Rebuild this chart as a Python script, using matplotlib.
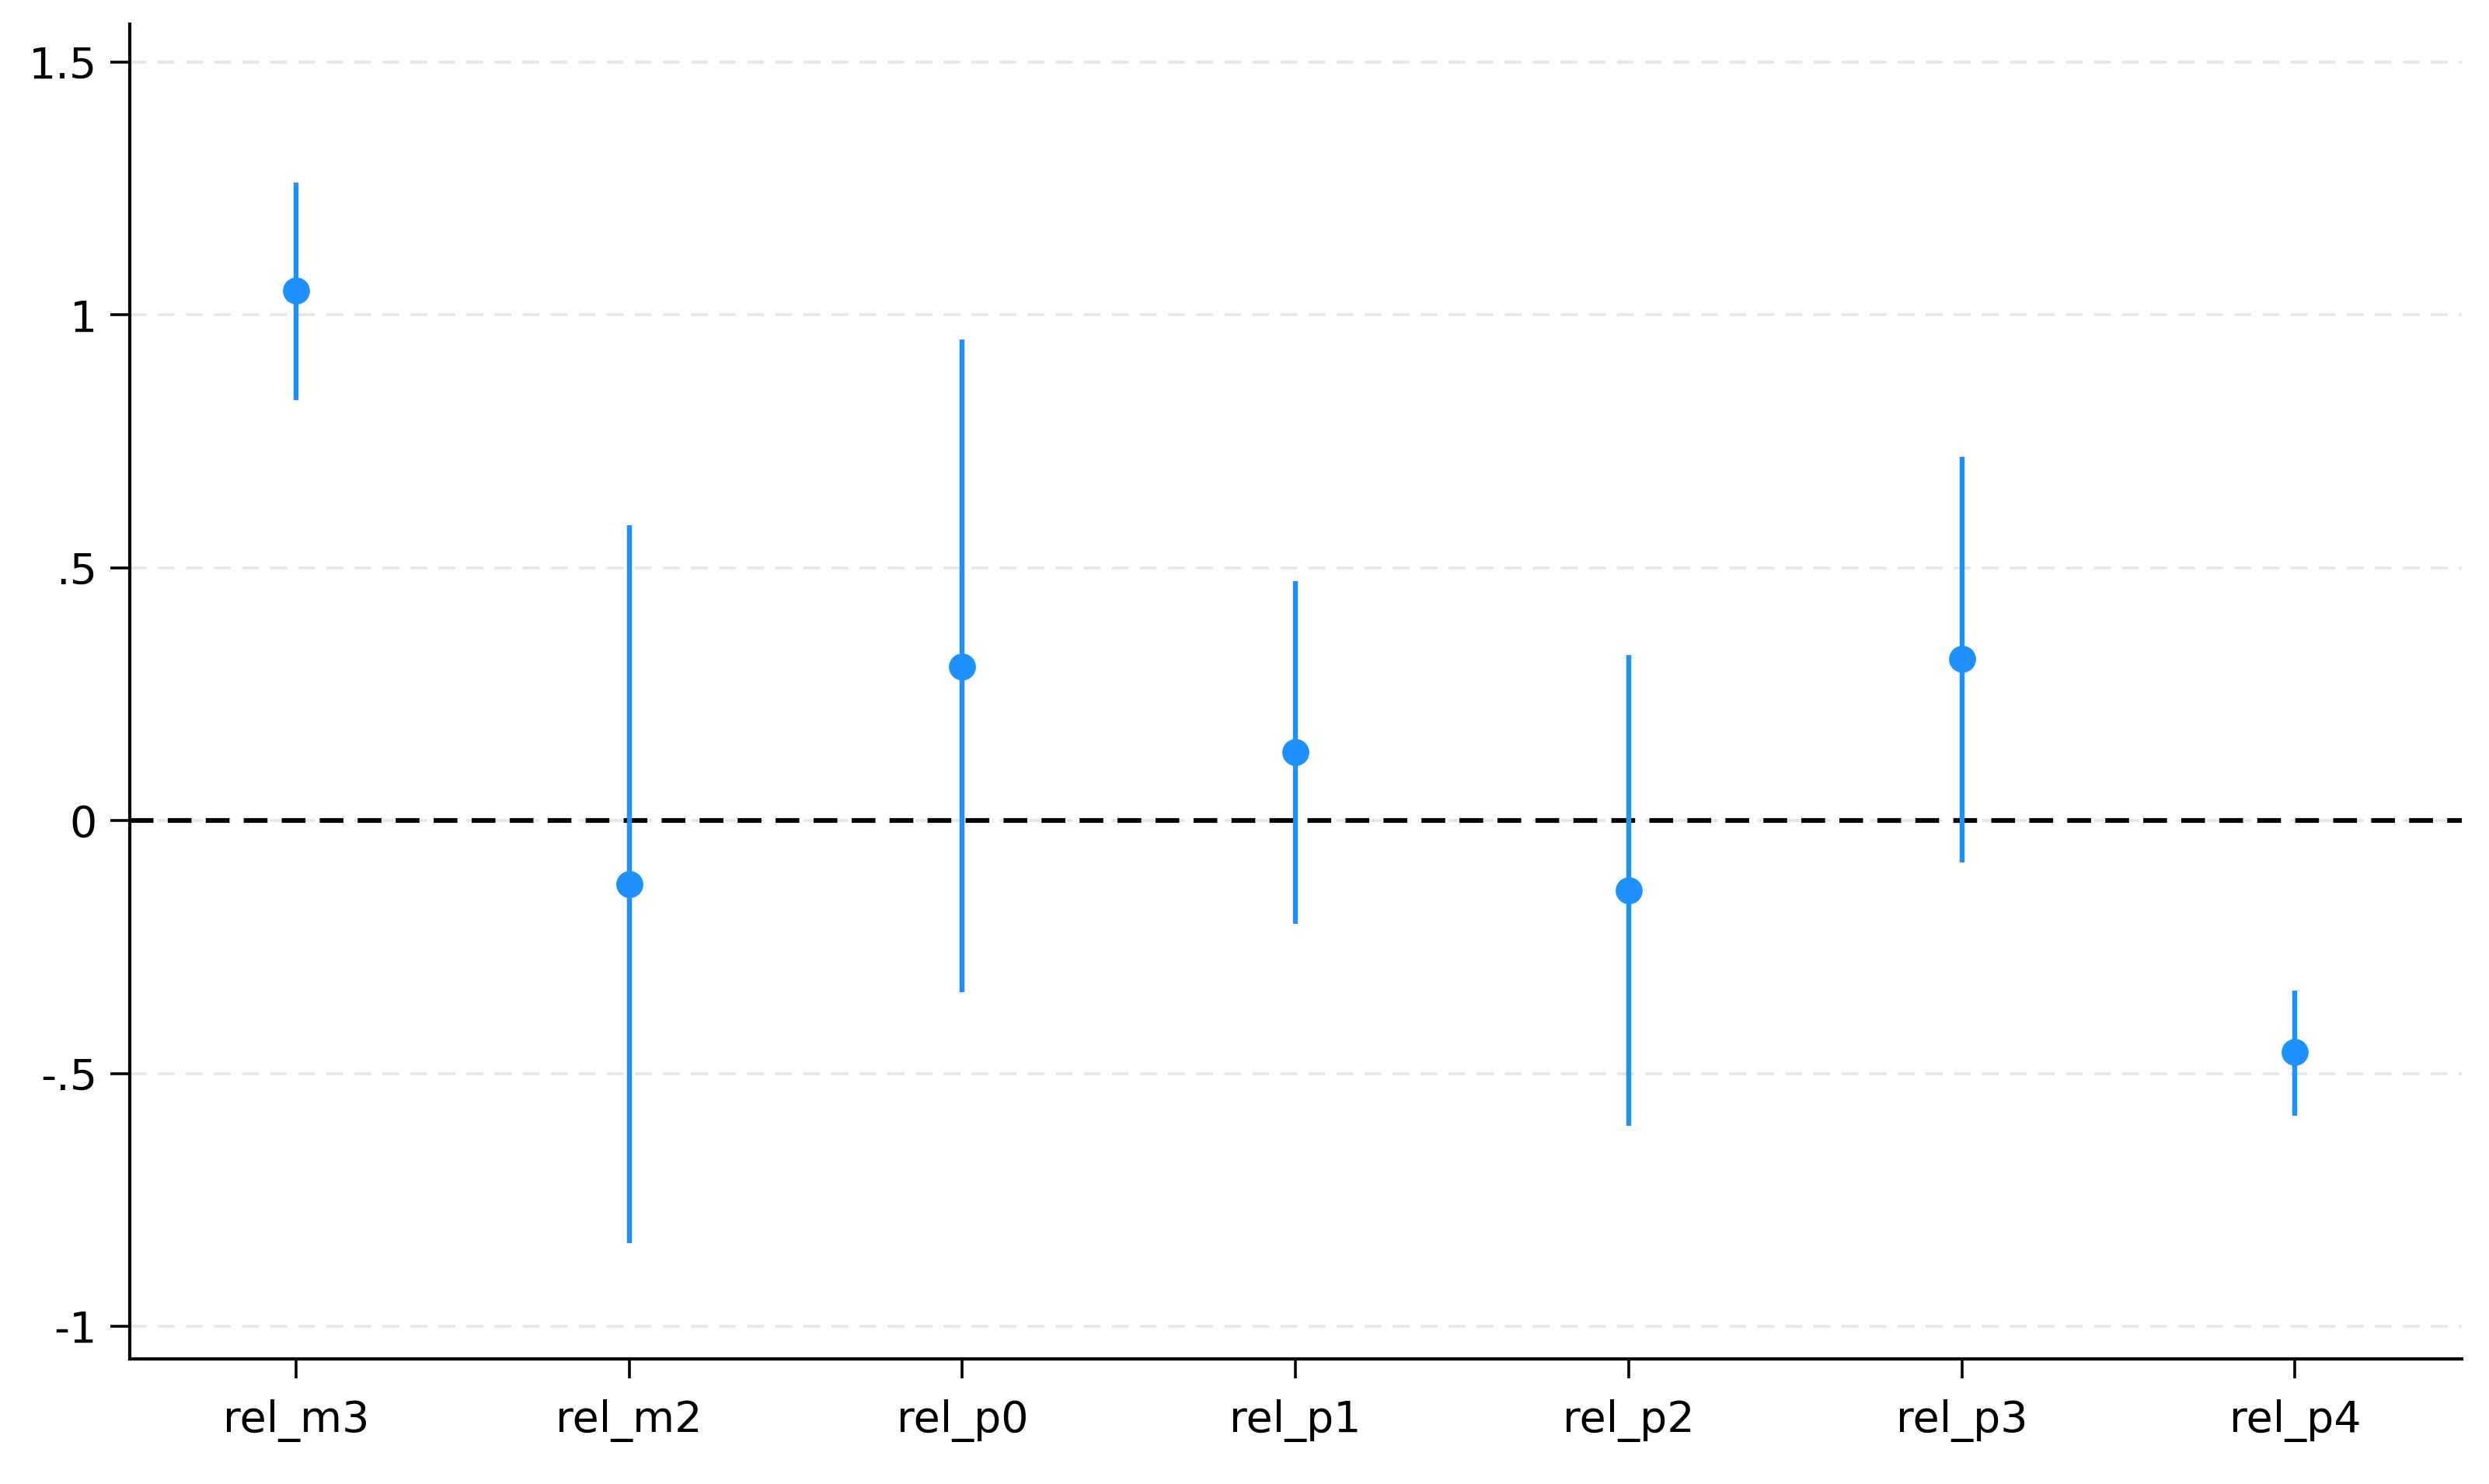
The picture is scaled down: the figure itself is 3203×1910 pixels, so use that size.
import matplotlib
matplotlib.use("Agg")
import matplotlib.pyplot as plt

labels = ["rel_m3", "rel_m2", "rel_p0", "rel_p1", "rel_p2", "rel_p3", "rel_p4"]
coef = [1.049, -0.126, 0.305, 0.135, -0.138, 0.320, -0.458]
lower = [0.832, -0.835, -0.339, -0.204, -0.603, -0.082, -0.584]
upper = [1.262, 0.584, 0.951, 0.474, 0.327, 0.719, -0.336]
yticks = [-1, -0.5, 0, 0.5, 1, 1.5]
yticklabels = ["-1", "-.5", "0", ".5", "1", "1.5"]

fig = plt.figure(figsize=(16.015, 9.55), dpi=200)
ax = fig.add_axes([0.052, 0.0845, 0.937, 0.8995])
x = list(range(len(labels)))
color = "#1e90ff"
ax.vlines(x, lower, upper, color=color, lw=2.3, zorder=3)
ax.plot(x, coef, "o", color=color, ms=11.5, zorder=4)
ax.axhline(0, color="black", lw=2.2, ls=(0, (5, 3)), zorder=2)
ax.set_xlim(-0.5, 6.5)
ax.set_ylim(-1.064, 1.576)
ax.set_yticks(yticks)
ax.set_yticklabels(yticklabels)
ax.set_xticks(x)
ax.set_xticklabels(labels)
for yv in yticks:
    ax.axhline(yv, color="#e6e6e6", lw=1.3, ls=(0, (6, 4)), zorder=1)
ax.tick_params(labelsize=20, width=1.3, length=9, color="black")
ax.tick_params(axis="y", pad=6)
ax.tick_params(axis="x", pad=10)
for s in ["top", "right"]:
    ax.spines[s].set_visible(False)
for s in ["left", "bottom"]:
    ax.spines[s].set_linewidth(1.5)
fig.savefig("out.png", dpi=200, facecolor="white")
